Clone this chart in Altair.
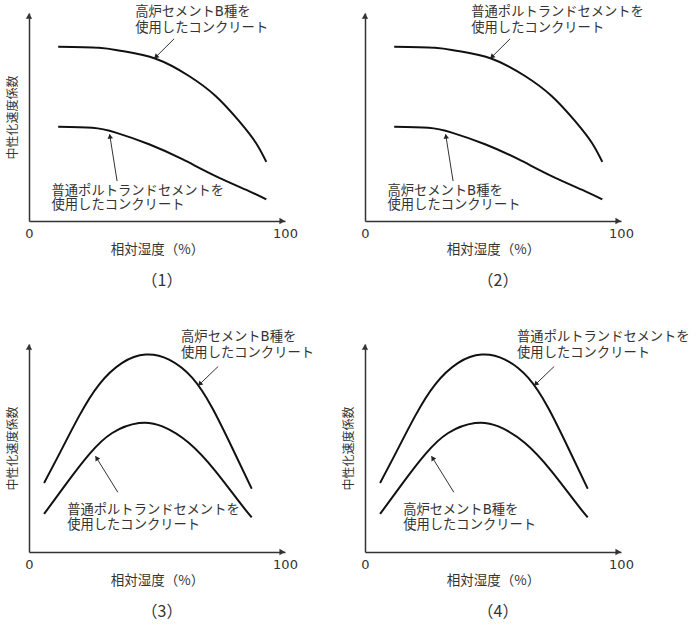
import math
import altair as alt
import pandas as pd

# ---------------- data ----------------
decline_upper_x = [11.4, 27.3, 36.4, 49.5, 62.5, 72.9, 82.0, 88.6, 92.7]
decline_upper_y = [83.8, 83.3, 81.7, 78.0, 69.7, 60.1, 48.1, 37.6, 28.4]
decline_lower_x = [11.4, 24.7, 33.9, 46.9, 59.9, 72.9, 85.9, 92.7]
decline_lower_y = [45.3, 44.8, 42.5, 36.9, 29.7, 21.6, 14.4, 10.4]

hump_upper_x = [5.9, 11.7, 19.5, 27.3, 36.4, 45.6, 54.7, 63.8, 71.6, 79.4, 87.0]
hump_upper_y = [33.2, 46.8, 65.2, 80.4, 90.9, 94.9, 92.5, 83.7, 69.2, 50.0, 30.4]
hump_lower_x = [5.9, 14.3, 23.4, 32.5, 43.0, 52.1, 62.5, 72.9, 82.0, 87.0]
hump_lower_y = [18.3, 32.4, 46.8, 57.2, 62.0, 60.4, 52.4, 38.8, 24.3, 16.6]

label_bfs = ["高炉セメントB種を", "使用したコンクリート"]
label_opc = ["普通ポルトランドセメントを", "使用したコンクリート"]

x_tick_values = [0, 100]
x_title = "相対湿度（%）"
y_title = "中性化速度係数"
panel_titles = ["（1）", "（2）", "（3）", "（4）"]

# annotation anchor points (data units): label left x, line y's, arrow tail, arrow head
decline_notes = {
    "top_x": 41.5, "top_y": [100.5, 92.8], "top_tail": (56.7, 87.6), "top_head": (49.0, 78.2),
    "bot_x": 8.8, "bot_y": [14.4, 7.7], "bot_tail": (34.4, 19.2), "bot_head": (31.5, 41.7),
}
hump_notes = {
    "top_x": 59.4, "top_y": [103.4, 95.7], "top_tail": (73.9, 89.2), "top_head": (66.1, 80.0),
    "bot_x": 14.9, "bot_y": [20.3, 13.1], "bot_tail": (34.7, 28.7), "bot_head": (26.0, 46.0),
}

# ---------------- styling ----------------
W, H = 256, 208
FONT = "DejaVu Sans, Noto Sans CJK JP"
CJK = "Noto Sans CJK JP"
TXT = "#333333"
SX, SY = W / 100.0, H / 100.0


def xenc(axis):
    return alt.X("x:Q", scale=alt.Scale(domain=[0, 100], nice=False, zero=False), axis=axis)


def yenc(axis):
    return alt.Y("y:Q", scale=alt.Scale(domain=[0, 100], nice=False, zero=False), axis=axis)


def head_row(tail, head, back=2.0):
    dx = (head[0] - tail[0]) * SX
    dy = -(head[1] - tail[1]) * SY
    L = math.hypot(dx, dy)
    ang = math.degrees(math.atan2(dx, -dy)) % 360
    hx = head[0] - dx / L * back / SX
    hy = head[1] + dy / L * back / SY
    return {"x": hx, "y": hy, "angle": ang}


def panel(kind, top_label, bot_label, show_ytitle, title):
    if kind == "decline":
        ux, uy, lx, ly, notes = decline_upper_x, decline_upper_y, decline_lower_x, decline_lower_y, decline_notes
    else:
        ux, uy, lx, ly, notes = hump_upper_x, hump_upper_y, hump_lower_x, hump_lower_y, hump_notes

    xaxis = alt.Axis(values=x_tick_values, title=x_title, ticks=False, grid=False,
                     labelPadding=6, titlePadding=2, labelFontSize=13, titleFontSize=13.5,
                     labelFont=FONT, titleFont=CJK, labelColor=TXT, titleColor=TXT,
                     titleFontWeight="normal", labelFlush=False,
                     domainColor=TXT, domainWidth=1.5)
    yaxis_kw = dict(labels=False, ticks=False, grid=False, titleFontSize=12, titleFont=CJK,
                    titleColor=TXT, titleFontWeight="normal", titlePadding=10,
                    domainColor=TXT, domainWidth=1.5)
    if show_ytitle:
        yaxis = alt.Axis(title=y_title, **yaxis_kw)
    else:
        yaxis = alt.Axis(title="", **yaxis_kw)

    curves = pd.DataFrame(
        [{"x": a, "y": b, "s": "upper", "o": i} for i, (a, b) in enumerate(zip(ux, uy))]
        + [{"x": a, "y": b, "s": "lower", "o": i} for i, (a, b) in enumerate(zip(lx, ly))]
    )
    texts = pd.DataFrame(
        [{"x": notes["top_x"], "y": yy, "t": t} for yy, t in zip(notes["top_y"], top_label)]
        + [{"x": notes["bot_x"], "y": yy, "t": t} for yy, t in zip(notes["bot_y"], bot_label)]
    )
    arrows = pd.DataFrame([
        {"x": notes["top_tail"][0], "y": notes["top_tail"][1], "x2": notes["top_head"][0], "y2": notes["top_head"][1]},
        {"x": notes["bot_tail"][0], "y": notes["bot_tail"][1], "x2": notes["bot_head"][0], "y2": notes["bot_head"][1]},
    ])
    heads = pd.DataFrame([head_row(notes["top_tail"], notes["top_head"]),
                          head_row(notes["bot_tail"], notes["bot_head"])])
    axis_heads = pd.DataFrame([{"x": 0, "y": 98.6, "shape": "triangle-up"},
                               {"x": 98.9, "y": 0, "shape": "triangle-right"}])

    line_layer = alt.Chart(curves).mark_line(color="#111111", strokeWidth=2, interpolate="natural").encode(
        x=xenc(xaxis), y=yenc(yaxis), detail="s:N", order="o:Q")
    text_layer = alt.Chart(texts).mark_text(align="left", baseline="middle", font=FONT, fontSize=13.3,
                                            color=TXT).encode(x=xenc(xaxis), y=yenc(yaxis), text="t:N")
    arrow_layer = alt.Chart(arrows).mark_rule(color=TXT, strokeWidth=1).encode(
        x=xenc(xaxis), y=yenc(yaxis), x2="x2:Q", y2="y2:Q")
    head_layer = alt.Chart(heads).mark_point(shape="triangle-up", filled=True, color="#222222",
                                             size=30, opacity=1).encode(
        x=xenc(xaxis), y=yenc(yaxis), angle=alt.Angle("angle:Q", scale=None))
    axis_head_layer = alt.Chart(axis_heads).mark_point(filled=True, color=TXT, size=40, opacity=1).encode(
        x=xenc(xaxis), y=yenc(yaxis), shape=alt.Shape("shape:N", scale=None))

    return alt.layer(line_layer, arrow_layer, head_layer, axis_head_layer, text_layer).properties(
        width=W, height=H,
        title=alt.TitleParams(text=title, orient="bottom", fontSize=16, fontWeight="normal",
                              font=CJK, color=TXT, offset=17, dx=5),
    )


p1 = panel("decline", label_bfs, label_opc, True, panel_titles[0])
p2 = panel("decline", label_opc, label_bfs, False, panel_titles[1])
p3 = panel("hump", label_bfs, label_opc, True, panel_titles[2])
p4 = panel("hump", label_opc, label_bfs, True, panel_titles[3])

chart = alt.concat(
    p1, p2, p3, p4, columns=2, bounds="flush",
    spacing=alt.RowColnumber(row=123, column=80),
).properties(
    padding={"left": 6, "top": 4, "right": 0, "bottom": 0},
    background="white",
).configure_view(stroke=None)

chart.save("out.html", embed_options={"renderer": "svg", "actions": False})
